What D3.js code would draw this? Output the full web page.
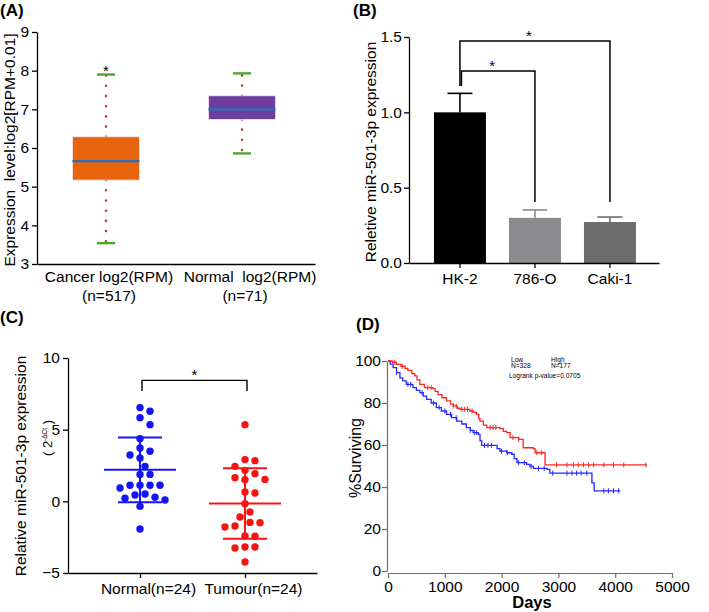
<!DOCTYPE html>
<html><head><meta charset="utf-8">
<script src="https://cdn.jsdelivr.net/npm/d3@7"></script>
<style>
body{margin:0;background:#fff;}
svg{display:block;font-family:"Liberation Sans",Arial,Helvetica,sans-serif;}
</style></head><body>
<svg id="c" width="709" height="612"></svg>
<script>
// ---------- Panel A: box plot ----------
const boxCategories = ["Cancer log2(RPM)", "Normal  log2(RPM)"];
const boxSampleLabels = ["(n=517)", "(n=71)"];
const boxQ1 = [5.17, 6.74];
const boxMedian = [5.66, 7.0];
const boxQ3 = [6.29, 7.35];
const boxWhiskerLow = [3.54, 5.86];
const boxWhiskerHigh = [7.9, 7.93];
const boxStarValue = [8.06, null];
const boxYTicks = [3, 4, 5, 6, 7, 8, 9];

// ---------- Panel B: bar chart ----------
const barCategories = ["HK-2", "786-O", "Caki-1"];
const barValues = [1.0, 0.3, 0.272];
const barErrors = [0.126, 0.052, 0.033];
const barYTicks = [0, 0.5, 1.0, 1.5];
const barCompareTo = ["Caki-1", "786-O"];
const barCompareLevel = [1.474, 1.274];
const barCompareLeftEnd = [1.175, 1.175];
const barCompareRightEnd = [0.405, 0.405];

// ---------- Panel C: scatter dot plot ----------
const dotGroups = ["Normal(n=24)", "Tumour(n=24)"];
const normalValues = [6.54, 6.28, 5.84, 5.35, 4.37, 3.49, 3.72, 3.02, 3.23, 2.44, 1.88, 1.88,
  1.12, 1.12, 0.93, 1.12, 1.12, 0.28, 0.44, 0.51, 0.09, 0.21, -0.35, -1.93];
const tumourValues = [5.35, 2.84, 2.91, 2.16, 2.44, 1.93, 1.65, 1.51, 1.53, 0.65, 0.58, -0.16,
  -0.74, -1.09, -1.79, -1.49, -1.72, -1.47, -2.44, -2.42, -3.19, -3.26, -3.19, -4.23];
const dotYTicks = [-5, 0, 5, 10];
const dotCompareLevel = 8.44;
const dotCompareEnd = 7.7;

// ---------- Panel D: Kaplan-Meier ----------
const lowDays = [0, 40, 90, 150, 210, 260, 320, 440, 500, 560, 620, 680, 760, 850, 940, 1030, 1120, 1210,
  1300, 1380, 1450, 1500, 1590, 1620, 1650, 1880, 1920, 1970, 2090, 2180, 2220, 2270, 2440, 2500,
  2560, 2800, 2850, 3560, 3590, 3630, 4090];
const lowSurv = [100, 98.5, 96.8, 94.5, 92, 90.5, 88.9, 87.3, 86, 84.9, 83.3, 81.7, 80, 77.8, 76.2, 74.6, 73,
  71.4, 70, 68.3, 67, 65.9, 65.1, 62, 59.8, 59.8, 58.3, 57.1, 56.3, 55.6, 53.5, 51.6, 50.8, 49.8,
  48.9, 48.4, 46.6, 46.6, 42, 38.2, 38.2];
const highDays = [0, 80, 150, 230, 300, 350, 420, 470, 510, 560, 640, 790, 830, 880, 950, 1030, 1100, 1150,
  1220, 1270, 1440, 1500, 1560, 1600, 1620, 1680, 1740, 1970, 2030, 2090, 2150, 2300, 2380, 2560,
  2590, 2765, 4560];
const highSurv = [100, 99.4, 98.4, 97.5, 96.5, 95.5, 94, 92.9, 91, 88.9, 87.3, 86.8, 85.5, 84, 82.5, 81, 79.5,
  78.6, 77.5, 77, 76.2, 75.5, 74.6, 72.5, 71.4, 69.5, 68.3, 67.8, 66.5, 65.9, 63.5, 62.7, 58.7, 58.3,
  56.3, 50.5, 50.5];
const lowCensorDays = [150, 350, 400, 600, 800, 900, 1000, 1100, 1200, 1450, 1520, 1560, 1700, 1760, 1820,
  2000, 2100, 2300, 2400, 2520, 2650, 2750, 2900, 3150, 3240, 3320, 3400, 3500, 3800, 3880, 3970, 4060];
const highCensorDays = [120, 250, 700, 760, 1150, 1200, 1300, 1350, 1400, 1480, 1800, 1850, 1900, 2200,
  2300, 2620, 2700, 2970, 3150, 3265, 3350, 3440, 3530, 3620, 3800, 3970, 4150, 4540];
const kmXTicks = [0, 1000, 2000, 3000, 4000, 5000];
const kmYTicks = [0, 20, 40, 60, 80, 100];
const kmLegend = [["Low", "N=328"], ["High", "N=177"]];
const kmPText = "Logrank p-value=0.0705";

// =====================================================
const svg = d3.select("#c");
const FS = 15.5;

function panelLabel(t, x, y) {
  svg.append("text").attr("x", x).attr("y", y).attr("font-size", 17).attr("font-weight", "bold").text(t);
}
function styleAxis(g, color) {
  g.attr("font-family", null).attr("font-size", null);
  g.selectAll("path,line").attr("stroke", color).attr("stroke-width", 1.3);
  g.selectAll("text").attr("fill", "#000").style("font-size", FS + "px");
}

// ---------------- Panel A ----------------
panelLabel("(A)", 0, 16);
const yA = d3.scaleLinear().domain([3, 9]).range([264, 32]);
const xA = d3.scalePoint().domain(boxCategories).range([37, 315]).padding(0.522).align(0.486);
const gA = svg.append("g");
const axA = gA.append("g").attr("transform", "translate(37,0)")
  .call(d3.axisLeft(yA).tickValues(boxYTicks).tickFormat(d3.format("d")).tickSize(5).tickSizeOuter(0).tickPadding(3));
styleAxis(axA, "#000");
const axAx = gA.append("g").attr("transform", "translate(0,264)")
  .call(d3.axisBottom(xA).tickSize(0).tickSizeOuter(0).tickFormat(""));
styleAxis(axAx, "#000");
gA.append("text").attr("transform", "translate(14.5,150) rotate(-90)").attr("text-anchor", "middle")
  .style("font-size", "15.5px").style("white-space", "pre").text("Expression  level:log2[RPM+0.01]");

const boxColors = ["#e8640c", "#6a3d9f"];
boxCategories.forEach((c, i) => {
  const cx = xA(c);
  const bw = 67, cw = 18;
  [[boxQ3[i], boxWhiskerHigh[i]], [boxQ1[i], boxWhiskerLow[i]]].forEach(([a, b]) => {
    gA.append("line").attr("x1", cx).attr("x2", cx).attr("y1", yA(a)).attr("y2", yA(b))
      .attr("stroke", "#b8432b").attr("stroke-width", 2.6).attr("stroke-linecap", "round")
      .attr("stroke-dasharray", "0,10.2");
  });
  [boxWhiskerHigh[i], boxWhiskerLow[i]].forEach(v => {
    gA.append("line").attr("x1", cx - cw / 2).attr("x2", cx + cw / 2).attr("y1", yA(v)).attr("y2", yA(v))
      .attr("stroke", "#4aa832").attr("stroke-width", 2.4);
  });
  gA.append("rect").attr("x", cx - bw / 2).attr("width", bw).attr("y", yA(boxQ3[i]))
    .attr("height", yA(boxQ1[i]) - yA(boxQ3[i])).attr("fill", boxColors[i])
    .attr("stroke", "#f3e6f0").attr("stroke-width", 0.8);
  gA.append("line").attr("x1", cx - bw / 2).attr("x2", cx + bw / 2).attr("y1", yA(boxMedian[i])).attr("y2", yA(boxMedian[i]))
    .attr("stroke", "#2e6cb5").attr("stroke-width", 2.4);
  if (boxStarValue[i] != null) {
    gA.append("text").attr("x", cx).attr("y", yA(boxStarValue[i]) + 8).attr("text-anchor", "middle")
      .style("font-size", "15px").text("*");
  }
  gA.append("text").attr("x", cx + (i === 0 ? 3 : 8)).attr("y", 282).attr("text-anchor", "middle")
    .style("font-size", FS + "px").style("white-space", "pre").text(c);
  gA.append("text").attr("x", cx + 3).attr("y", 301).attr("text-anchor", "middle")
    .style("font-size", FS + "px").text(boxSampleLabels[i]);
});

// ---------------- Panel B ----------------
panelLabel("(B)", 353, 16);
const yB = d3.scaleLinear().domain([0, 1.5]).range([263, 37]);
const xB = d3.scaleBand().domain(barCategories).range([409, 659]).paddingInner(0.307).paddingOuter(0.32).align(0.52);
const gB = svg.append("g");
const barColors = ["#000000", "#8b8b8d", "#6c6c6c"];
barCategories.forEach((c, i) => {
  const x0 = xB(c), bw = xB.bandwidth(), cx = x0 + bw / 2;
  gB.append("rect").attr("x", x0).attr("width", bw).attr("y", yB(barValues[i]))
    .attr("height", yB(0) - yB(barValues[i])).attr("fill", barColors[i]);
  const top = yB(barValues[i] + barErrors[i]);
  gB.append("line").attr("x1", cx).attr("x2", cx).attr("y1", yB(barValues[i])).attr("y2", top)
    .attr("stroke", barColors[i]).attr("stroke-width", 1.6);
  gB.append("line").attr("x1", cx - 12.5).attr("x2", cx + 12.5).attr("y1", top).attr("y2", top)
    .attr("stroke", barColors[i]).attr("stroke-width", 1.6);
});
const axB = gB.append("g").attr("transform", "translate(409,0)")
  .call(d3.axisLeft(yB).tickValues(barYTicks).tickFormat(d3.format(".1f")).tickSize(5).tickSizeOuter(0).tickPadding(2));
styleAxis(axB, "#000");
const axBx = gB.append("g").attr("transform", "translate(0,263)")
  .call(d3.axisBottom(xB).tickSize(5).tickSizeOuter(0).tickPadding(4));
styleAxis(axBx, "#000");
axBx.selectAll("text").attr("dy", "0.75em");
gB.append("text").attr("transform", "translate(375.5,152) rotate(-90)").attr("text-anchor", "middle")
  .style("font-size", "15.5px").text("Reletive miR-501-3p expression");
barCompareTo.forEach((t, k) => {
  const xl = xB(barCategories[0]) + xB.bandwidth() / 2 + (k === 1 ? 1.5 : 0);
  const xr = xB(t) + xB.bandwidth() / 2;
  const yl = yB(barCompareLevel[k]);
  gB.append("path").attr("d", `M${xl},${yB(barCompareLeftEnd[k])}V${yl}H${xr}V${yB(barCompareRightEnd[k])}`)
    .attr("fill", "none").attr("stroke", "#000").attr("stroke-width", 1.5);
  gB.append("text").attr("x", (xl + xr) / 2 - 6).attr("y", yl).attr("text-anchor", "middle")
    .style("font-size", "15px").text("*");
});

// ---------------- Panel C ----------------
panelLabel("(C)", 0, 323);
const yC = d3.scaleLinear().domain([-5, 10]).range([573, 358]);
const xC = d3.scalePoint().domain(dotGroups).range([68, 317]).padding(0.686).align(0.5);
const gC = svg.append("g");
const axC = gC.append("g").attr("transform", "translate(68,0)")
  .call(d3.axisLeft(yC).tickValues(dotYTicks).tickSize(5).tickSizeOuter(0).tickPadding(3));
styleAxis(axC, "#000");
const axCx = gC.append("g").attr("transform", "translate(0,573)")
  .call(d3.axisBottom(xC).tickSize(5).tickSizeOuter(0).tickPadding(4));
styleAxis(axCx, "#000");
axCx.selectAll("text").attr("dx", 8).attr("dy", "0.75em");
gC.append("text").attr("transform", "translate(25.5,466) rotate(-90)").attr("text-anchor", "middle")
  .style("font-size", "15.5px").text("Relative miR-501-3p expression");
const sub = gC.append("text").attr("transform", "translate(52,438) rotate(-90)").attr("text-anchor", "middle")
  .style("font-size", "13px").style("white-space", "pre");
sub.append("tspan").text("( 2");
sub.append("tspan").style("font-size", "6.5px").attr("dy", -5).text("-ΔCt");
sub.append("tspan").attr("dy", 5).text(" )");

function swarm(values, scale, r, step) {
  const order = d3.range(values.length).sort((a, b) => values[b] - values[a]);
  const placed = [], off = new Array(values.length);
  for (const i of order) {
    const y = scale(values[i]);
    for (let k = 0; k < 40; k++) {
      const o = k === 0 ? 0 : (k % 2 ? 1 : -1) * Math.ceil(k / 2) * step;
      if (placed.every(p => Math.hypot(p.x - o, p.y - y) >= 2 * r + 1.8)) {
        off[i] = o; placed.push({ x: o, y }); break;
      }
    }
  }
  return off;
}
const dotColors = ["#1414f5", "#f51414"];
[normalValues, tumourValues].forEach((vals, gi) => {
  const cx = xC(dotGroups[gi]);
  const col = dotColors[gi];
  const offs = swarm(vals, yC, 3.7, 5);
  gC.selectAll(null).data(vals).enter().append("circle")
    .attr("cx", (d, i) => cx + offs[i]).attr("cy", d => yC(d)).attr("r", 3.7).attr("fill", col);
  const m = d3.mean(vals), s = d3.deviation(vals);
  const hw = 36, cw = 22;
  gC.append("line").attr("x1", cx - hw).attr("x2", cx + hw).attr("y1", yC(m)).attr("y2", yC(m))
    .attr("stroke", col).attr("stroke-width", 2);
  gC.append("line").attr("x1", cx).attr("x2", cx).attr("y1", yC(m + s)).attr("y2", yC(m - s))
    .attr("stroke", col).attr("stroke-width", 2);
  [m + s, m - s].forEach(v => gC.append("line").attr("x1", cx - cw).attr("x2", cx + cw)
    .attr("y1", yC(v)).attr("y2", yC(v)).attr("stroke", col).attr("stroke-width", 2));
});
{
  const xl = xC(dotGroups[0]) + 2, xr = xC(dotGroups[1]) + 2, yl = yC(dotCompareLevel);
  gC.append("path").attr("d", `M${xl},${yC(dotCompareEnd)}V${yl}H${xr}V${yC(dotCompareEnd)}`)
    .attr("fill", "none").attr("stroke", "#000").attr("stroke-width", 1.4);
  gC.append("text").attr("x", (xl + xr) / 2).attr("y", yl).attr("text-anchor", "middle")
    .style("font-size", "15px").text("*");
}

// ---------------- Panel D ----------------
panelLabel("(D)", 356, 330);
const xD = d3.scaleLinear().domain([0, 5000]).range([388, 672]);
const yD = d3.scaleLinear().domain([0, 100]).range([571, 361]);
const gD = svg.append("g");
const axD = gD.append("g").attr("transform", "translate(387,0)")
  .call(d3.axisLeft(yD).tickValues(kmYTicks).tickFormat(d3.format("d")).tickSize(5).tickSizeOuter(0).tickPadding(1));
styleAxis(axD, "#6e6e6e");
axD.selectAll("path,line").attr("stroke-width", 1.2);
const axDx = gD.append("g").attr("transform", "translate(0,573)")
  .call(d3.axisBottom(xD).tickValues(kmXTicks).tickFormat(d3.format("d")).tickSize(5).tickSizeOuter(0).tickPadding(3));
styleAxis(axDx, "#6e6e6e");
axDx.selectAll("path,line").attr("stroke-width", 1.2);
axDx.selectAll("text").style("font-size", "15.5px");
axD.selectAll("text").style("font-size", "15.5px");
gD.append("text").attr("x", 532).attr("y", 608).attr("text-anchor", "middle").style("font-size", "16.5px")
  .attr("font-weight", "bold").text("Days");
gD.append("text").attr("transform", "translate(360.5,458) rotate(-90)").attr("text-anchor", "middle")
  .style("font-size", "16px").text("%Surviving");

const kmLine = d3.line().x(d => xD(d[0])).y(d => yD(d[1])).curve(d3.curveStepAfter);
[[lowDays, lowSurv, lowCensorDays, "#2626ff"], [highDays, highSurv, highCensorDays, "#ff2424"]]
  .forEach(([days, surv, cens, col]) => {
    const pts = days.map((d, i) => [d, surv[i]]);
    gD.append("path").datum(pts).attr("d", kmLine).attr("fill", "none").attr("stroke", col).attr("stroke-width", 1.3);
    cens.forEach(cd => {
      const idx = Math.max(0, d3.bisectRight(days, cd) - 1);
      const yy = yD(surv[idx]), xx = xD(cd);
      gD.append("line").attr("x1", xx).attr("x2", xx).attr("y1", yy - 2.5).attr("y2", yy + 2.5)
        .attr("stroke", col).attr("stroke-width", 1);
    });
  });
kmLegend.forEach((lg, i) => {
  const x = 511 + i * 40;
  gD.append("text").attr("x", x).attr("y", 362).style("font-size", "6.6px").text(lg[0]);
  gD.append("text").attr("x", x).attr("y", 368).style("font-size", "6.6px").text(lg[1]);
});
gD.append("text").attr("x", 509).attr("y", 378).style("font-size", "6.6px").text(kmPText);
</script>
</body></html>
